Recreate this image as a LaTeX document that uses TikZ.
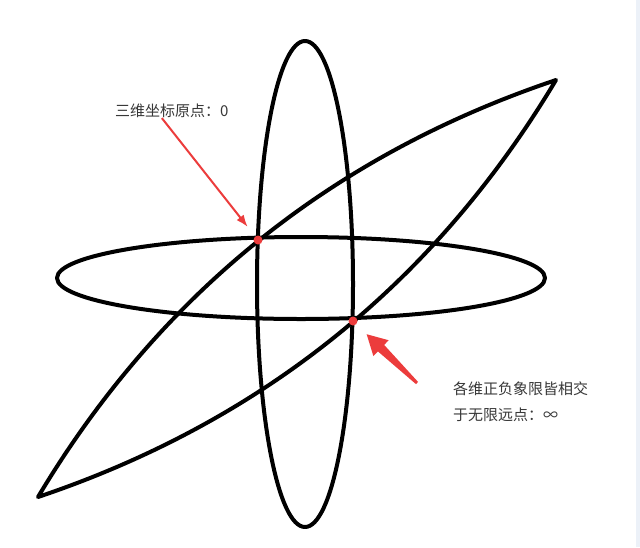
\documentclass[tikz,border=0pt]{standalone}
\usepackage{fontspec}
\newfontfamily\cjk{Noto Sans CJK SC}
\usetikzlibrary{arrows.meta,calc}
\definecolor{rojo}{RGB}{236,60,60}
\definecolor{texto}{RGB}{56,56,56}
\definecolor{borde}{RGB}{236,241,248}
\begin{document}
\begin{tikzpicture}[x=1pt,y=-1pt]
% estilos de linea y relleno
\tikzstyle{curva}=[black,line width=4pt,line join=round];
\tikzstyle{punto}=[circle,fill=rojo,inner sep=0pt,minimum size=9pt];
\tikzstyle{rotulo}=[text=texto,font=\cjk\fontsize{15}{26}\selectfont,align=left,inner sep=0pt];
\tikzstyle{flecha}=[rojo,line width=2pt,-{Latex[length=12pt,width=9pt]}];
% marco
\fill[white] (0,0) rectangle (640,547);
\fill[borde] (636,0) rectangle (640,547);
\useasboundingbox (0,0) rectangle (640,547);
% dibujar elipses
\draw[curva] (301,278) ellipse [x radius=244pt, y radius=41pt];
\draw[curva] (305,284) ellipse [x radius=48pt, y radius=243pt];
% dibujar lente
\draw[curva] (38,497) .. controls (159.3,294.3) and (332,155.3) .. (556,80)
  .. controls (434.7,282.7) and (262,421.7) .. cycle;
% dibujar puntos
\node[punto] (origen) at (258,240) {};
\node[punto] (infinito) at (353,321) {};
% dibujar rotulos
\node[rotulo,anchor=west] (rorigen) at (115,111) {三维坐标原点：0};
\node[rotulo,anchor=west] (rinf) at (453,402) {各维正负象限皆相交\\于无限远点：∞};
% dibujar flechas
\draw[flecha,shorten >=12pt] ([xshift=-10pt]rorigen.south) -- (origen);
\coordinate (colainf) at (417,383);
\coordinate (puntainf) at ($(infinito)!19pt!(colainf)$);
\coordinate (baseinf) at ($(puntainf)!20pt!(colainf)$);
\fill[rojo] ($(colainf)!1.5pt!90:(puntainf)$) -- ($(baseinf)!4.5pt!90:(puntainf)$)
  -- ($(baseinf)!11pt!90:(puntainf)$) -- (puntainf)
  -- ($(baseinf)!11pt!-90:(puntainf)$) -- ($(baseinf)!4.5pt!-90:(puntainf)$)
  -- ($(colainf)!1.5pt!-90:(puntainf)$) -- cycle;
\end{tikzpicture}
\end{document}
